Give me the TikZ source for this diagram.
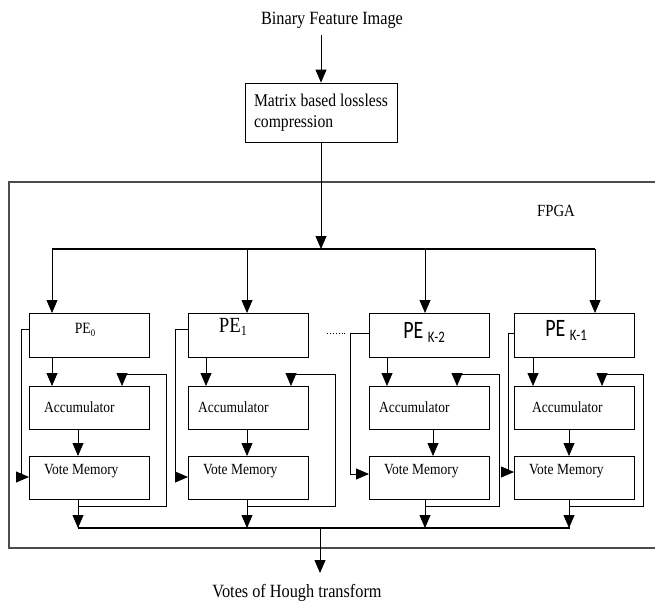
\documentclass[tikz,border=0pt]{standalone}
\usepackage{fontspec}
\setmainfont{Liberation Serif}
\newfontfamily\calfont{Carlito}
\usetikzlibrary{arrows.meta}
\newcommand\sqz[1]{\scalebox{0.87}[1]{#1}}
\newcommand\sqc[1]{\scalebox{0.8}[1]{#1}}
\begin{document}
\begin{tikzpicture}[x=1pt,y=-1pt,
  box/.style={draw, line width=0.8pt, minimum width=120pt, anchor=north west, inner sep=0pt},
  arr/.style={line width=0.8pt, -{Triangle[length=13pt,width=11pt]}},
  ln/.style={line width=0.8pt},
  bus/.style={line width=2.8pt},
  frame/.style={line width=1.4pt, draw=black!70},
  lbl/.style={inner sep=0pt, anchor=west, font=\fontsize{15.5}{17}\selectfont},
  big/.style={inner sep=0pt, font=\fontsize{18.7}{20}\selectfont},
]
\useasboundingbox (0,0) rectangle (655,605);

% input and compression
\node[big] (bin) at (332,20) {\sqz{Binary Feature Image}};
\node[draw, line width=0.8pt, minimum width=152pt, minimum height=59pt, inner sep=0pt,
      font=\fontsize{18}{21}\selectfont] (mat) at (321,112.5)
      {\sqz{\begin{tabular}{@{}l@{}}Matrix based lossless\\compression\end{tabular}}};
\coordinate (inTop) at (321,35);
\draw[arr] (inTop) -- (mat.north);

% FPGA frame
\coordinate (frTR) at (660,182);
\coordinate (frTL) at (9,182);
\coordinate (frBL) at (9,548);
\coordinate (frBR) at (660,548);
\draw[frame] (frTR) -- (frTL) -- (frBL) -- (frBR);
\node[inner sep=0pt, font=\fontsize{17}{18}\selectfont] (fpga) at (556,211) {\sqz{FPGA}};

% top bus
\coordinate (busL) at (52,249);
\coordinate (busR) at (595,249);
\draw[bus] (busL) -- (busR);
\draw[arr] (mat.south) -- (mat.south |- busL);

% bottom bus
\coordinate (busBL) at (78,528);
\coordinate (busBR) at (570,528);
\coordinate (busBM) at (320,528);
\coordinate (outEnd) at (320,573);
\draw[bus] (busBL) -- (busBR);
\draw[arr] (busBM) -- (outEnd);
\node[big] (votes) at (297,593) {\sqz{Votes of Hough transform}};

% boxes
\foreach \i/\L in {0/29, 1/188, 2/369, 3/514}{
  \node[box, minimum height=44pt] (pe\i) at (\L,313) {};
  \node[box, minimum height=43pt] (acc\i) at (\L,386) {};
  \node[box, minimum height=43pt] (vm\i) at (\L,456) {};
}

% box texts
\node[inner sep=0pt, font=\fontsize{15.7}{17}\selectfont] (pet0) at (85,330)
  {\sqz{PE\raisebox{-2.5pt}{\fontsize{10}{10}\selectfont 0}}};
\node[inner sep=0pt, font=\fontsize{21.6}{23}\selectfont] (pet1) at (233,327)
  {\sqz{PE\raisebox{-3pt}{\fontsize{14}{14}\selectfont 1}}};
\node[inner sep=0pt, font=\calfont\fontsize{25}{26}\selectfont] (pet2) at (424,332)
  {\sqc{PE \raisebox{-4pt}{\fontsize{16}{16}\selectfont K-2}}};
\node[inner sep=0pt, font=\calfont\fontsize{25}{26}\selectfont] (pet3) at (566,330)
  {\sqc{PE \raisebox{-4pt}{\fontsize{16}{16}\selectfont K-1}}};

\foreach \i/\L/\ao in {0/29/15, 1/188/10, 2/369/10, 3/514/18}{
  \node[lbl] (acct\i) at (\L+\ao,407) {\sqz{Accumulator}};
  \node[lbl] (vmt\i) at (\L+15,471) {\sqz{Vote Memory}};
}

% dots between PE1 and PE K-2
\coordinate (dotA) at (327,333);
\coordinate (dotB) at (345,333);
\draw[dotted, line width=0.9pt] (dotA) -- (dotB);

% connectors per column
\foreach \i/\d/\p/\f/\r/\a/\v/\b/\by/\ba in {
    0/23/23/93/137/49/49/-8/16/21,
    1/59/18/103/147/59/59/-13/16/21,
    2/56/18/88/130/64/56/-19/20/18,
    3/81/19/88/129/55/55/-6/20/16}{
  % bus to PE
  \draw[arr] ([xshift=\d pt]pe\i.north west |- busL) -- ([xshift=\d pt]pe\i.north west);
  % PE to accumulator
  \draw[arr] ([xshift=\p pt]pe\i.south west) -- ([xshift=\p pt]acc\i.north west);
  % accumulator to vote memory
  \draw[arr] ([xshift=\a pt]acc\i.south west) -- ([xshift=\a pt]vm\i.north west);
  % vote memory to bottom bus
  \draw[arr] ([xshift=\v pt]vm\i.south west) -- ([xshift=\v pt]vm\i.south west |- busBL);
  % feedback loop
  \draw[arr] ([xshift=\v pt]vm\i.south west) -- ++(0,7) -| ++({\r-\v},-132)
      -| ([xshift=\f pt]acc\i.north west);
  % bypass PE to vote memory
  \draw[arr] ([yshift=-\by pt]pe\i.north west) -- ++(\b,0)
      |- ([yshift=-\ba pt]vm\i.north west);
}
\end{tikzpicture}
\end{document}
